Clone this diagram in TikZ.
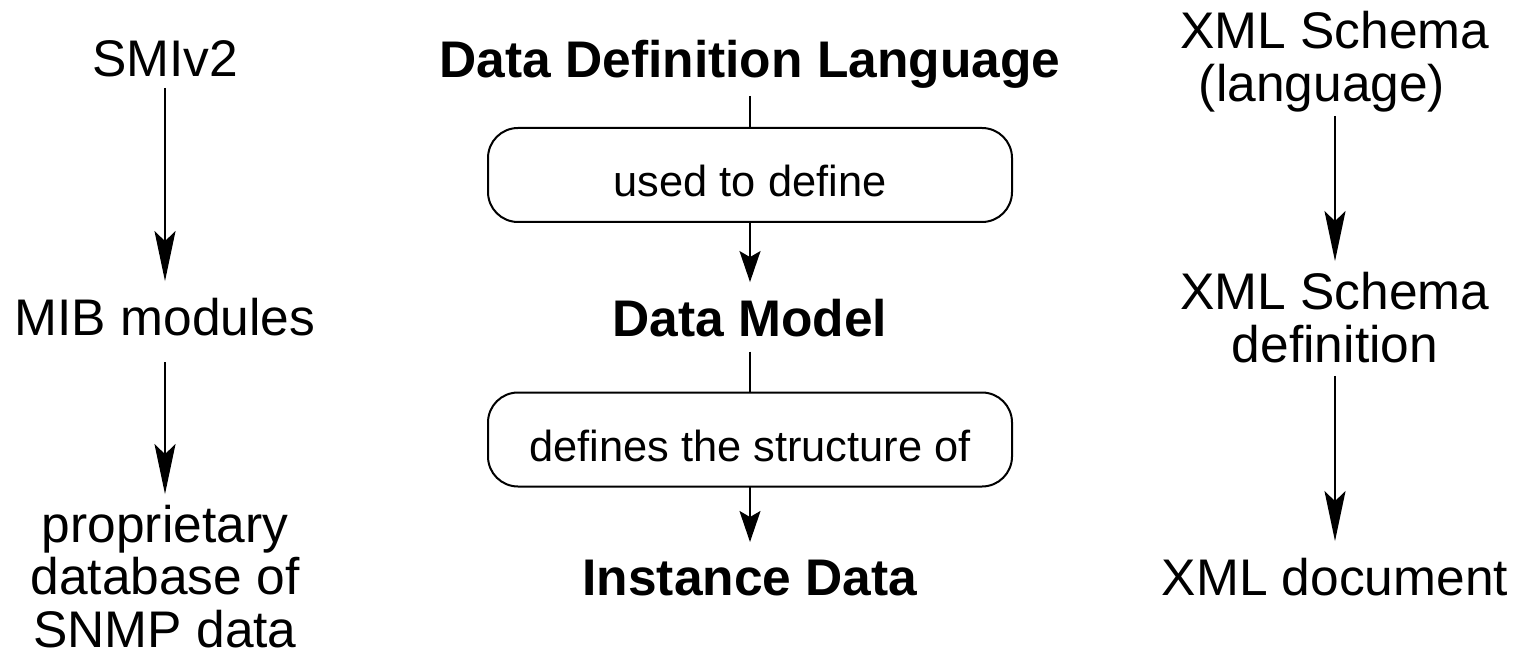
\documentclass[tikz,border=0pt]{standalone}
\usepackage{fontspec}
\setmainfont{Liberation Sans}
\usetikzlibrary{arrows.meta}
\newcommand{\mylines}[1]{\begin{tabular}[t]{@{}c@{}}#1\end{tabular}}
\tikzset{
  lbl/.style={inner sep=0pt, outer sep=0pt, anchor=base, font=\fontsize{51.5}{52}\selectfont},
  boldlbl/.style={lbl, font=\fontsize{51.5}{52}\selectfont\bfseries},
  rbox/.style={draw, line width=2pt, rounded corners=30pt, minimum width=524pt,
    minimum height=94pt, inner sep=0pt, outer sep=0pt, text height=44pt, text depth=0pt,
    font=\fontsize{43.4}{44}\selectfont},
  longarr/.style={line width=2pt, -{Stealth[length=50pt,width=21pt,inset=10pt]}},
  shortarr/.style={line width=2pt, -{Stealth[length=31pt,width=21pt,inset=6pt]}},
  link/.style={line width=2pt}
}
\begin{document}
\begin{tikzpicture}[x=1pt,y=-1pt]
\useasboundingbox (0,0) rectangle (1518,652);
% left column
\node[lbl] (smi) at (165,77) {\mylines{SMIv2}};
\node[lbl] (mib) at (165,335) {\mylines{MIB modules}};
\node[lbl] (prop) at (165,542) {\mylines{proprietary\\database of\\SNMP data}};
% centre column
\node[boldlbl] (ddl) at (750,78) {\mylines{Data Definition Language}};
\node[rbox] (box1) at (750,175) {used to define};
\node[boldlbl] (dm) at (750,336) {\mylines{Data Model}};
\node[rbox] (box2) at (750,439.5) {defines the structure of};
\node[boldlbl] (inst) at (750,595) {\mylines{Instance Data}};
% right column
\node[lbl] (xs1) at (1335,49) {\mylines{XML Schema\\(language)\kern26pt}};
\node[lbl] (xs2) at (1335,310) {\mylines{XML Schema\\definition}};
\node[lbl] (xd) at (1335,595) {\mylines{XML document}};
% connectors
\draw[longarr] ([yshift=4.6pt]smi.south) -- ([yshift=16.6pt]mib.north);
\draw[longarr] ([yshift=-11.4pt]mib.south) -- ([yshift=10.6pt]prop.north);
\draw[link] ([yshift=-2.4pt]ddl.south) -- (box1.north);
\draw[shortarr] (box1.south) -- ([yshift=16.6pt]dm.north);
\draw[link] (dm.south) -- (box2.north);
\draw[shortarr] (box2.south) -- ([yshift=16.6pt]inst.north);
\draw[longarr] ([yshift=1.6pt]xs1.south) -- ([yshift=11.6pt]xs2.north);
\draw[longarr] ([yshift=2.6pt]xs2.south) -- ([yshift=16.6pt]xd.north);
\end{tikzpicture}
\end{document}
